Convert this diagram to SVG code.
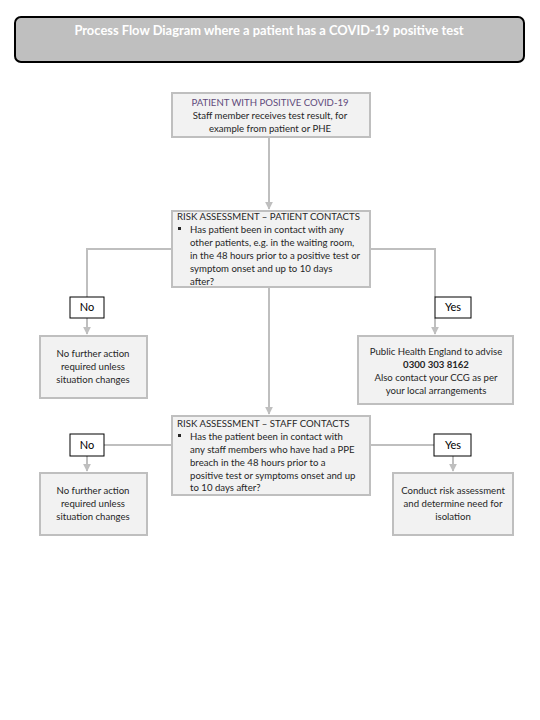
<svg xmlns="http://www.w3.org/2000/svg" width="540" height="720" viewBox="0 0 540 720">
<defs>
<marker id="arr" viewBox="0 0 10 10" refX="9" refY="5" markerWidth="4" markerHeight="4" orient="auto" markerUnits="strokeWidth">
<path d="M0,0 L10,5 L0,10 z" fill="#bfbfbf"/>
</marker>
<style>
.box{fill:#f2f2f2;stroke:#bfbfbf;stroke-width:2}
.lbl{fill:#ffffff;stroke:#000000;stroke-width:1}
.t{font-family:Lato,"Liberation Sans",sans-serif;font-size:9.6px;fill:#262626}
.c{text-anchor:middle}
.con{fill:none;stroke:#bfbfbf;stroke-width:2}
.bul{fill:#262626}
.yn{font-family:Lato,"Liberation Sans",sans-serif;font-size:11px;fill:#000000;text-anchor:middle}
</style>
</defs>
<rect width="540" height="720" fill="#ffffff"/>
<g id="title">
<rect x="15" y="17" width="509" height="45" rx="6" fill="#bfbfbf" stroke="#000000" stroke-width="2"/>
<text x="269" y="35" font-family="Lato,'Liberation Sans',sans-serif" font-size="12.9" font-weight="bold" fill="#ffffff" text-anchor="middle">Process Flow Diagram where a patient has a COVID-19 positive test</text>
</g>
<g id="connectors">
<path class="con" d="M269,138 V209" marker-end="url(#arr)"/>
<path class="con" d="M171,249 H87 V297"/>
<path class="con" d="M87,318 V334" marker-end="url(#arr)"/>
<path class="con" d="M371,249 H435 V297"/>
<path class="con" d="M435,318 V334" marker-end="url(#arr)"/>
<path class="con" d="M269,288 V414" marker-end="url(#arr)"/>
<path class="con" d="M171,445 H104"/>
<path class="con" d="M87,456 V471" marker-end="url(#arr)"/>
<path class="con" d="M371,445 H434"/>
<path class="con" d="M453,456 V471" marker-end="url(#arr)"/>
</g>
<g id="n1">
<rect class="box" x="172" y="93" width="198" height="44"/>
<text class="t c" x="270" y="106" style="fill:#604a7b">PATIENT WITH POSITIVE COVID-19</text>
<text class="t c" x="270" y="119">Staff member receives test result, for</text>
<text class="t c" x="270" y="132">example from patient or PHE</text>
</g>
<g id="n2">
<rect class="box" x="172" y="211" width="198" height="76"/>
<text class="t" x="177" y="220">RISK ASSESSMENT – PATIENT CONTACTS</text>
<rect class="bul" x="178" y="227" width="3" height="3"/>
<text class="t" x="190" y="233">Has patient been in contact with any</text>
<text class="t" x="190" y="246">other patients, e.g. in the waiting room,</text>
<text class="t" x="190" y="259">in the 48 hours prior to a positive test or</text>
<text class="t" x="190" y="272">symptom onset and up to 10 days</text>
<text class="t" x="190" y="285">after?</text>
</g>
<g id="no1">
<rect class="lbl" x="70" y="297" width="34" height="21"/>
<text class="yn" x="87" y="311">No</text>
</g>
<g id="yes1">
<rect class="lbl" x="435" y="297" width="36" height="21"/>
<text class="yn" x="453" y="311">Yes</text>
</g>
<g id="n3">
<rect class="box" x="40" y="336" width="107" height="62"/>
<text class="t c" x="93" y="357">No further action</text>
<text class="t c" x="93" y="370">required unless</text>
<text class="t c" x="93" y="383">situation changes</text>
</g>
<g id="n4">
<rect class="box" x="358" y="336" width="155" height="68"/>
<text class="t c" x="436" y="355">Public Health England to advise</text>
<text class="t c" x="436" y="368" font-weight="bold">0300 303 8162</text>
<text class="t c" x="436" y="381">Also contact your CCG as per</text>
<text class="t c" x="436" y="394">your local arrangements</text>
</g>
<g id="n5">
<rect class="box" x="172" y="416" width="198" height="79"/>
<text class="t" x="177" y="427">RISK ASSESSMENT – STAFF CONTACTS</text>
<rect class="bul" x="178" y="434" width="3" height="3"/>
<text class="t" x="190" y="440">Has the patient been in contact with</text>
<text class="t" x="190" y="453">any staff members who have had a PPE</text>
<text class="t" x="190" y="466">breach in the 48 hours prior to a</text>
<text class="t" x="190" y="479">positive test or symptoms onset and up</text>
<text class="t" x="190" y="491">to 10 days after?</text>
</g>
<g id="no2">
<rect class="lbl" x="70" y="434" width="34" height="22"/>
<text class="yn" x="87" y="449">No</text>
</g>
<g id="yes2">
<rect class="lbl" x="434" y="434" width="37" height="22"/>
<text class="yn" x="453" y="449">Yes</text>
</g>
<g id="n6">
<rect class="box" x="40" y="473" width="107" height="62"/>
<text class="t c" x="93" y="494">No further action</text>
<text class="t c" x="93" y="507">required unless</text>
<text class="t c" x="93" y="520">situation changes</text>
</g>
<g id="n7">
<rect class="box" x="393" y="473" width="120" height="62"/>
<text class="t c" x="453" y="494">Conduct risk assessment</text>
<text class="t c" x="453" y="507">and determine need for</text>
<text class="t c" x="453" y="520">isolation</text>
</g>
</svg>
